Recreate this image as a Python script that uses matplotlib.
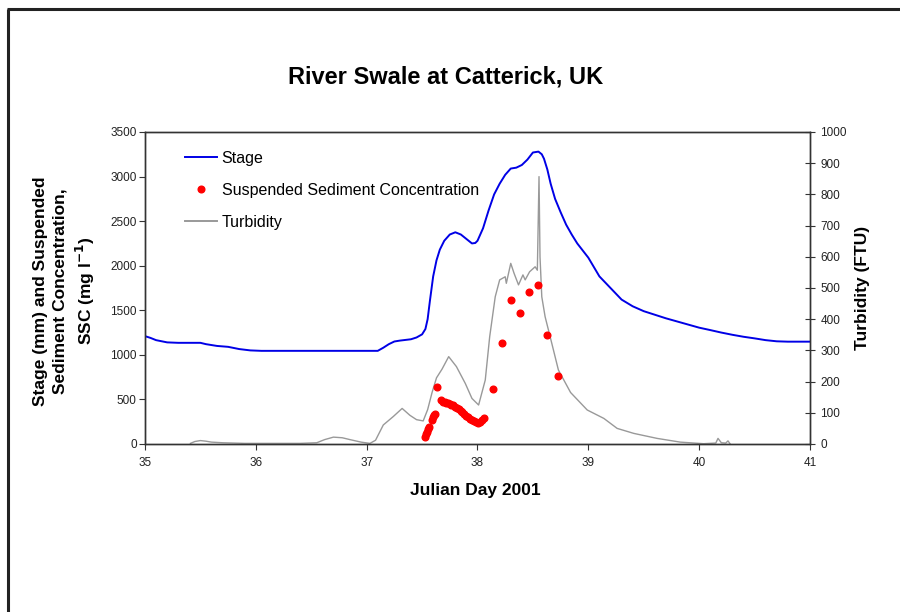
import matplotlib
matplotlib.use("Agg")
import matplotlib.pyplot as plt
from matplotlib.lines import Line2D

plt.rcParams['font.family'] = ['Liberation Sans', 'DejaVu Sans']

# ---------------- data ----------------
stage_day = [35.00, 35.05, 35.10, 35.20, 35.30, 35.40, 35.50, 35.55, 35.65, 35.75,
             35.85, 35.95, 36.05, 36.50, 37.00, 37.10, 37.15, 37.20, 37.25, 37.30,
             37.40, 37.45, 37.50, 37.53, 37.55, 37.57, 37.60, 37.63, 37.66, 37.70,
             37.75, 37.80, 37.85, 37.90, 37.95, 37.98, 38.00, 38.05, 38.10, 38.15,
             38.20, 38.25, 38.30, 38.35, 38.40, 38.45, 38.50, 38.55, 38.58, 38.60,
             38.63, 38.66, 38.70, 38.75, 38.80, 38.85, 38.90, 39.00, 39.10, 39.20,
             39.30, 39.40, 39.50, 39.60, 39.70, 39.80, 39.90, 40.00, 40.10, 40.20,
             40.30, 40.40, 40.50, 40.60, 40.70, 40.80, 41.00]
stage_mm = [1210, 1190, 1165, 1140, 1135, 1135, 1135, 1120, 1100, 1090,
            1065, 1050, 1045, 1045, 1045, 1045, 1080, 1120, 1150, 1160,
            1175, 1195, 1230, 1290, 1400, 1600, 1880, 2060, 2180, 2280,
            2350, 2375, 2350, 2300, 2250, 2255, 2280, 2420, 2620, 2800,
            2920, 3020, 3090, 3100, 3130, 3190, 3270, 3280, 3250, 3200,
            3080, 2920, 2750, 2600, 2460, 2350, 2250, 2090, 1880, 1750,
            1620, 1545, 1490, 1450, 1410, 1375, 1340, 1305, 1278, 1250,
            1225, 1203, 1185, 1165, 1152, 1148, 1148]

turb_day = [35.41, 35.45, 35.50, 35.55, 35.60, 35.70, 35.80, 35.90, 36.00, 36.20,
            36.40, 36.55, 36.62, 36.70, 36.78, 36.85, 36.95, 37.03, 37.08, 37.15,
            37.24, 37.32, 37.39, 37.45, 37.51, 37.55, 37.59, 37.63, 37.68, 37.74,
            37.81, 37.89, 37.95, 38.01, 38.07, 38.11, 38.16, 38.20, 38.25, 38.26,
            38.30, 38.33, 38.37, 38.41, 38.43, 38.47, 38.52, 38.54, 38.555, 38.564,
            38.58, 38.61, 38.67, 38.73, 38.84, 38.99, 39.14, 39.26, 39.41, 39.62,
            39.83, 40.04, 40.15, 40.17, 40.20, 40.24, 40.26, 40.28]
turb_ftu = [2, 8, 11, 9, 6, 4, 3, 2, 2, 2,
            2, 4, 14, 22, 20, 14, 6, 2, 12, 61,
            88, 114, 92, 78, 74, 110, 165, 212, 240, 280,
            248, 194, 146, 125, 205, 344, 472, 526, 536, 515,
            579, 547, 510, 542, 526, 552, 568, 557, 857, 600,
            472, 408, 323, 237, 165, 109, 82, 50, 34, 18,
            6, 1, 3, 18, 4, 3, 10, 0]

ssc_day = [37.524, 37.535, 37.547, 37.556, 37.566, 37.587, 37.597, 37.608, 37.614,
           37.634, 37.674, 37.69, 37.707, 37.72, 37.735, 37.75, 37.765, 37.78,
           37.80, 37.818, 37.833, 37.848, 37.864, 37.88, 37.90, 37.917, 37.933,
           37.948, 37.967, 37.986, 38.005, 38.02, 38.04, 38.06,
           38.137, 38.218, 38.30, 38.384, 38.468, 38.549, 38.624, 38.724]
ssc_mg = [82, 110, 138, 165, 194, 269, 300, 325, 340,
          636, 490, 475, 468, 462, 455, 448, 440, 432,
          420, 405, 390, 375, 355, 340, 318, 300, 283,
          270, 255, 243, 235, 245, 268, 295,
          612, 1135, 1615, 1470, 1705, 1780, 1225, 765]

# ---------------- figure ----------------
fig = plt.figure(figsize=(9.0, 6.12), dpi=100)
fig.patch.set_facecolor('white')

# outer frame (left and top)
fig.add_artist(Line2D([7.5/900, 7.5/900], [0, 1 - 8.5/612], transform=fig.transFigure,
                      color='#222222', lw=2.2, solid_capstyle='butt'))
fig.add_artist(Line2D([7.5/900 - 0.001, 1], [1 - 8.5/612, 1 - 8.5/612], transform=fig.transFigure,
                      color='#222222', lw=2.2, solid_capstyle='butt'))

ax = fig.add_axes([145/900, 1 - 444/612, (810 - 145)/900, (444 - 132)/612])
ax2 = ax.twinx()
ax.set_zorder(ax2.get_zorder() + 1)
ax.patch.set_visible(False)

ax2.plot(turb_day, turb_ftu, color='#999999', lw=1.0)
ax.plot(stage_day, stage_mm, color='#0000e6', lw=1.4)
ax.plot(ssc_day, ssc_mg, linestyle='none', marker='o', markersize=4.8,
        markerfacecolor='#ff0000', markeredgecolor='#ff0000')

ax.set_xlim(35, 41)
ax.set_ylim(0, 3500)
ax2.set_ylim(0, 1000)
ax.set_xticks(range(35, 42))
ax.set_yticks(range(0, 3501, 500))
ax2.set_yticks(range(0, 1001, 100))

for a in (ax, ax2):
    for s in a.spines.values():
        s.set_color('#333333')
        s.set_linewidth(1.0)

ax.tick_params(axis='y', direction='out', length=4, width=0.8, color='#333333',
               labelsize=8.5, pad=2, labelcolor='#222222')
ax.tick_params(axis='x', direction='out', length=4, width=0.8, color='#333333',
               labelsize=8.5, pad=5, labelcolor='#222222')
ax2.tick_params(axis='y', direction='inout', length=7, width=0.8, color='#333333',
                labelsize=8.5, pad=4, labelcolor='#222222')

fig.text(446/900, 1 - 77/612, 'River Swale at Catterick, UK', ha='center', va='center',
         fontsize=17, fontweight='bold')
fig.text(475/900, 1 - 490/612, 'Julian Day 2001', ha='center', va='center',
         fontsize=12.5, fontweight='bold')
fig.text(65/900, 1 - 291/612,
         'Stage (mm) and Suspended\nSediment Concentration,\nSSC (mg l$^{\\mathbf{-1}}$)',
         ha='center', va='center', rotation=90, fontsize=12.5, fontweight='bold',
         multialignment='center', linespacing=1.38)
fig.text(862/900, 1 - 288/612, 'Turbidity (FTU)', ha='center', va='center', rotation=90,
         fontsize=12.5, fontweight='bold')

handles = [Line2D([], [], color='#0000e6', lw=1.4),
           Line2D([], [], linestyle='none', marker='o', markersize=4.8,
                  markerfacecolor='#ff0000', markeredgecolor='#ff0000'),
           Line2D([], [], color='#999999', lw=1.4)]
labels = ['Stage', 'Suspended Sediment Concentration', 'Turbidity']
leg = ax.legend(handles, labels, loc='upper left', bbox_to_anchor=(185/900, 1 - 151/612),
                bbox_transform=fig.transFigure, frameon=False, fontsize=11.5,
                handlelength=2.0, handletextpad=0.3, labelspacing=1.05,
                borderaxespad=0, borderpad=0)

fig.savefig('out.png', dpi=100, facecolor='white')
